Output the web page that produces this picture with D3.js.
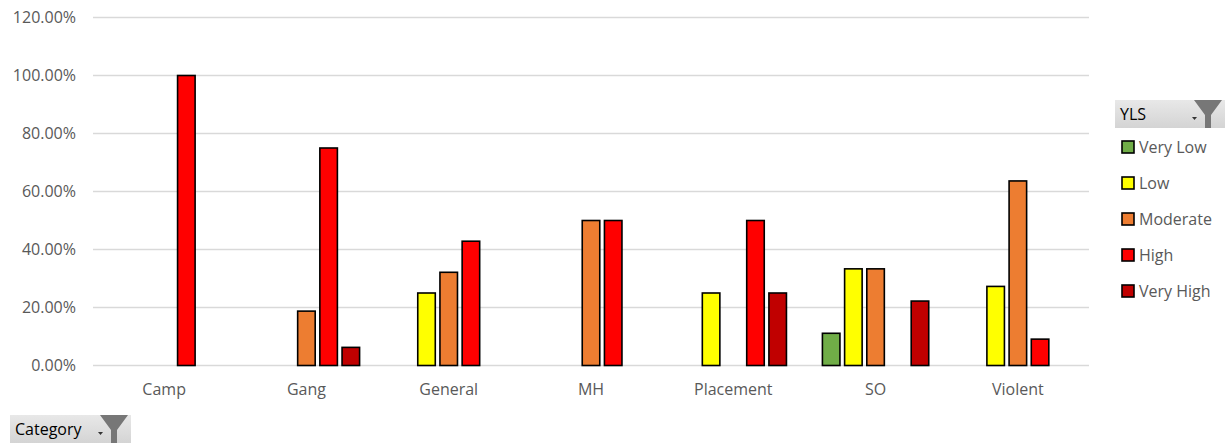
<!DOCTYPE html>
<meta charset="utf-8">
<style>
  body { margin: 0; background: #fff; }
  text { font-family: "Open Sans", "Liberation Sans", sans-serif; }
</style>
<svg width="1231" height="445"></svg>
<script src="https://d3js.org/d3.v7.min.js"></script>
<script>
    // data
    var categories = ["Camp", "Gang", "General", "MH", "Placement", "SO", "Violent"];
    var levels = ["Very Low", "Low", "Moderate", "High", "Very High"];
    var colors = ["#70AD47", "#FFFF00", "#ED7D31", "#FF0000", "#C00000"];
    var veryLow  = [null, null, null, null, null, 0.1111, null];
    var low      = [null, null, 0.25, null, 0.25, 0.3333, 0.2727];
    var moderate = [null, 0.1875, 0.3214, 0.5, null, 0.3333, 0.6364];
    var high     = [1.0, 0.75, 0.4286, 0.5, 0.5, null, 0.0909];
    var veryHigh = [null, 0.0625, null, null, 0.25, 0.2222, null];
    var yTicks = [0, 0.2, 0.4, 0.6, 0.8, 1.0, 1.2];

    var series = [veryLow, low, moderate, high, veryHigh];

    var svg = d3.select("svg");
    var x0 = d3.scaleBand().domain(categories).range([93, 1089]).paddingInner(0.22).paddingOuter(0.11);
    var x1 = d3.scaleBand().domain(levels).range([0, x0.bandwidth()]).paddingInner(0.21).paddingOuter(0.105);
    var y = d3.scaleLinear().domain([0, 1.2]).range([365.5, 17.5]);
    var fmt = d3.format(".2%");

    // gridlines
    svg.append("g").selectAll("line")
        .data(yTicks)
        .enter().append("line")
        .attr("x1", 93).attr("x2", 1089)
        .attr("y1", function (d) { return y(d); })
        .attr("y2", function (d) { return y(d); })
        .attr("stroke", "#d9d9d9")
        .attr("stroke-width", 1.3);

    svg.append("g").selectAll("text")
        .data(yTicks)
        .enter().append("text")
        .attr("x", 76)
        .attr("y", function (d) { return y(d) + 5.5; })
        .attr("text-anchor", "end")
        .attr("font-size", 16)
        .attr("fill", "#595959")
        .text(function (d) { return fmt(d); });

    // bars
    var bars = [];
    series.forEach(function (s, si) {
        s.forEach(function (v, ci) {
            if (v != null) bars.push({ cat: categories[ci], lvl: levels[si], v: v, c: colors[si] });
        });
    });

    svg.append("g").selectAll("rect")
        .data(bars)
        .enter().append("rect")
        .attr("x", function (d) { return x0(d.cat) + x1(d.lvl); })
        .attr("width", x1.bandwidth())
        .attr("y", function (d) { return y(d.v); })
        .attr("height", function (d) { return y(0) - y(d.v); })
        .attr("fill", function (d) { return d.c; })
        .attr("stroke", "#000")
        .attr("stroke-width", 1.6);

    // category labels
    svg.append("g").selectAll("text")
        .data(categories)
        .enter().append("text")
        .attr("x", function (d) { return x0(d) + x0.bandwidth() / 2; })
        .attr("y", 395)
        .attr("text-anchor", "middle")
        .attr("font-size", 16)
        .attr("fill", "#595959")
        .text(function (d) { return d; });

    // filter buttons (pivot field buttons)
    var grad = svg.append("defs").append("linearGradient")
        .attr("id", "btn").attr("x1", 0).attr("x2", 0).attr("y1", 0).attr("y2", 1);
    grad.append("stop").attr("offset", "0%").attr("stop-color", "#e8e8e8");
    grad.append("stop").attr("offset", "100%").attr("stop-color", "#d4d4d4");

    function fieldButton(bx, by, bw, bh, label) {
        var g = svg.append("g").attr("transform", "translate(" + bx + "," + by + ")");
        g.append("rect").attr("width", bw).attr("height", bh).attr("fill", "url(#btn)");
        g.append("text").attr("x", 5).attr("y", bh / 2 + 5.5)
            .attr("font-size", 16).attr("fill", "#000").text(label);
        // dropdown arrow
        g.append("path")
            .attr("d", "M" + (bw - 33) + "," + (bh / 2 + 3) + "h5l-2.5,3z")
            .attr("fill", "#333");
        // funnel
        var fx = bw - 31, fw = 28;
        g.append("path")
            .attr("d", "M" + fx + ",0h" + fw + "l-11,15v" + (bh - 15) + "h-6v" + -(bh - 15) + "z")
            .attr("fill", "#777");
    }

    fieldButton(1115, 100, 110, 28, "YLS");
    fieldButton(10, 415, 121, 28, "Category");

    // legend
    var leg = svg.append("g").selectAll("g")
        .data(levels)
        .enter().append("g")
        .attr("transform", function (d, i) { return "translate(1122," + (147 + i * 36) + ")"; });
    leg.append("rect")
        .attr("x", 0).attr("y", -6).attr("width", 12).attr("height", 12)
        .attr("fill", function (d, i) { return colors[i]; })
        .attr("stroke", "#000").attr("stroke-width", 1.6);
    leg.append("text")
        .attr("x", 17).attr("y", 5.5)
        .attr("font-size", 16)
        .attr("fill", "#595959")
        .text(function (d) { return d; });
</script>
